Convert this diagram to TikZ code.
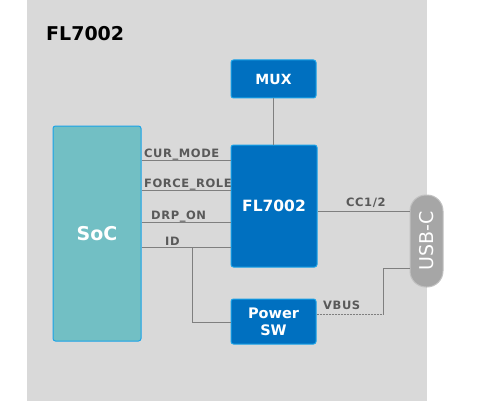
\documentclass[tikz,border=0pt]{standalone}
\usepackage{fontspec}
\setmainfont{DejaVu Sans}
\newfontfamily\labfont[LetterSpace=5]{DejaVu Sans}
\definecolor{bgc}{HTML}{D9D9D9}
\definecolor{boxc}{HTML}{0070C0}
\definecolor{boxb}{HTML}{1AA3E8}
\definecolor{socc}{HTML}{72BFC4}
\definecolor{linec}{HTML}{7F7F7F}
\definecolor{labc}{HTML}{595959}
\definecolor{usbc}{HTML}{A6A6A6}
\tikzset{
  blk/.style={draw=boxb, fill=boxc, line width=1pt, rounded corners=2.5pt, text=white, font=\bfseries, align=center, inner sep=0pt},
  wire/.style={draw=linec, line width=1pt},
  lab/.style={text=labc, font=\labfont\bfseries\fontsize{11.5}{12}\selectfont, inner sep=0pt, anchor=base west},
}
\begin{document}
\begin{tikzpicture}[x=1pt,y=-1pt]
\useasboundingbox (0,0) rectangle (481,401);
\fill[bgc] (27,0) rectangle (427,401);
\node[anchor=base west, inner sep=0pt, font=\bfseries\fontsize{19}{20}\selectfont] (title) at (46,40.5) {FL7002};
\node[blk, minimum width=85pt, minimum height=38pt, font=\bfseries\fontsize{14}{15}\selectfont] (mux) at (273.5,79) {MUX};
\node[blk, fill=socc, minimum width=88pt, minimum height=215pt, font=\bfseries\fontsize{19}{20}\selectfont] (soc) at (97,233.5) {SoC};
\node[blk, minimum width=86pt, minimum height=122pt, font=\bfseries\fontsize{15.5}{17}\selectfont] (fl) at (274,206) {\raisebox{-6.5pt}{FL7002}};
\node[blk, minimum width=85pt, minimum height=45pt, font=\bfseries\fontsize{14.5}{17}\selectfont] (psw) at (273.5,321.5) {Power\\SW};
\node[fill=usbc, draw=usbc!70!white, line width=1pt, rounded corners=16pt, minimum width=33pt, minimum height=92pt, inner sep=0pt] (usb) at (426.5,241) {};
\node[rotate=90, text=white, font=\fontsize{19}{20}\selectfont, inner sep=0pt] (usbt) at (usb.center) {USB-C};
% signals
\coordinate (y1) at (0,160);
\coordinate (y2) at (0,190);
\coordinate (y3) at (0,222);
\coordinate (y4) at (0,247);
\coordinate (y5) at (0,211);
\coordinate (y6) at (0,314);
\coordinate (y7) at (0,268);
\coordinate (y8) at (0,322);
\coordinate (xv) at (383,0);
\coordinate (xi) at (192,0);
\draw[wire] (mux.south) -- (mux.south |- fl.north);
\draw[wire] (soc.east |- y1) -- (fl.west |- y1);
\draw[wire] (soc.east |- y2) -- (fl.west |- y2);
\draw[wire] (soc.east |- y3) -- (fl.west |- y3);
\draw[wire] (soc.east |- y4) -- (fl.west |- y4);
\draw[wire] (xi |- y4) -- (xi |- y8) -- (psw.west |- y8);
\draw[wire] (fl.east |- y5) -- (usb.west |- y5);
\draw[wire, dashed, dash pattern=on 2pt off 1pt] (psw.east |- y6) -- (xv |- y6);
\draw[wire] (xv |- y6) -- (xv |- y7) -- (usb.west |- y7);
\node[lab] (l1) at (144,157) {CUR\_MODE};
\node[lab] (l2) at (144,187) {FORCE\_ROLE};
\node[lab] (l3) at (151,219.5) {DRP\_ON};
\node[lab] (l4) at (165,245) {ID};
\node[lab] (l5) at (346,206) {CC1/2};
\node[lab] (l6) at (323,309) {VBUS};
\end{tikzpicture}
\end{document}
